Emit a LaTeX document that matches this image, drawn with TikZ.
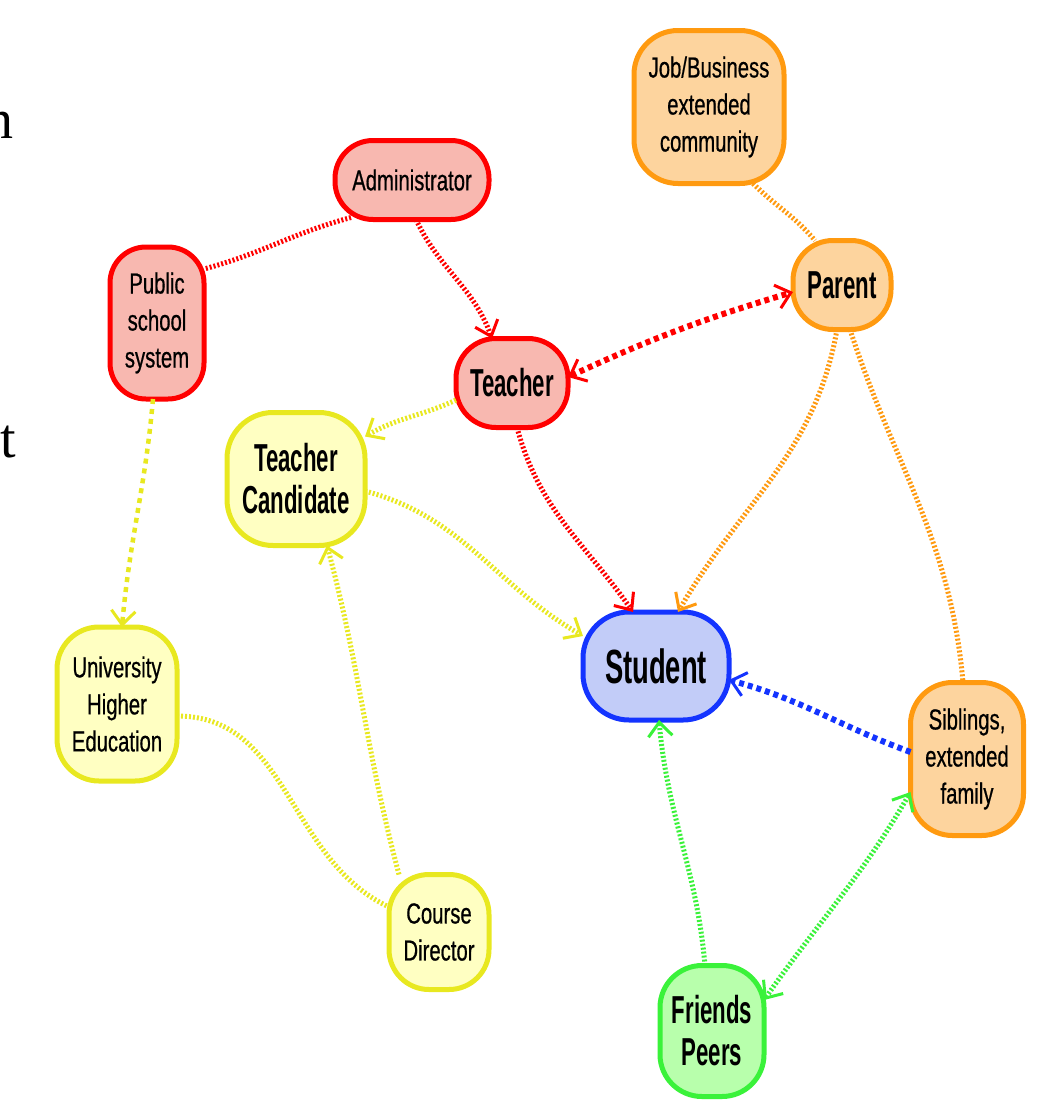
\documentclass[tikz,border=0pt]{standalone}
\usepackage{fontspec}
\setmainfont{Liberation Sans}
\newfontfamily\regf{Liberation Sans}[FakeStretch=0.7, FakeBold=0.6]
\newfontfamily\boldf{Liberation Sans}[FakeStretch=0.57]
\newfontfamily\serff{Liberation Serif}
\usetikzlibrary{arrows.meta}
\pgfdeclarelayer{bg}
\pgfsetlayers{bg,main}
\definecolor{rB}{HTML}{FF0000}\definecolor{rF}{HTML}{F8B8B0}
\definecolor{oB}{HTML}{FF9A10}\definecolor{oF}{HTML}{FDD49E}
\definecolor{yB}{HTML}{E8E820}\definecolor{yF}{HTML}{FFFFC2}
\definecolor{bB}{HTML}{1434FF}\definecolor{bF}{HTML}{C2CCF8}
\definecolor{gB}{HTML}{3AF23A}\definecolor{gF}{HTML}{B8FFAC}
\newcommand\roundbox[3]{% node name, corner radius, style
  \begin{pgfonlayer}{bg}
  \draw[#3] ([xshift=#2]#1.north west) -- ([xshift=-#2]#1.north east)
    arc[start angle=90, end angle=0, radius=#2] -- ([yshift=#2]#1.south east)
    arc[start angle=0, end angle=-90, radius=#2] -- ([xshift=#2]#1.south west)
    arc[start angle=270, end angle=180, radius=#2] -- ([yshift=-#2]#1.north west)
    arc[start angle=180, end angle=90, radius=#2] -- cycle;
  \end{pgfonlayer}}
\tikzset{
  box/.style={align=center, inner sep=0pt, outer sep=0pt},
  regtxt/.style={font=\regf\fontsize{29}{37}\selectfont},
  boldtxt/.style={font=\boldf\bfseries\fontsize{39}{42}\selectfont},
  redbox/.style={line width=5pt, draw=rB, fill=rF},
  orabox/.style={line width=5pt, draw=oB, fill=oF},
  yelbox/.style={line width=5pt, draw=yB, fill=yF},
  blubox/.style={line width=5pt, draw=bB, fill=bF},
  grebox/.style={line width=5pt, draw=gB, fill=gF},
  hatch/.style={line width=5pt, dash pattern=on 2pt off 2pt},
  bigdot/.style={line width=6pt, dash pattern=on 5pt off 4pt},
  dashy/.style={line width=4.5pt, dash pattern=on 5pt off 5pt},
  tip/.style={-{Straight Barb[length=14pt, width=24pt, line width=3pt]}},
  tips/.style={{Straight Barb[length=14pt, width=24pt, line width=3pt]}-{Straight Barb[length=14pt, width=24pt, line width=3pt]}},
}
\begin{document}
\begin{tikzpicture}[x=1pt, y=-1pt]
\useasboundingbox (0,0) rectangle (1051,1100);
% partial slide text on left edge
\node[font=\serff\fontsize{56}{60}\selectfont, anchor=base east, inner sep=0pt] (sn) at (14,138) {n};
\node[font=\serff\fontsize{56}{60}\selectfont, anchor=base west, inner sep=0pt] (st) at (0,457) {t};

% nodes (size = centre line of the box border)
\node[box, regtxt, minimum width=150pt, minimum height=153pt] (job) at (709,107) {Job/Business\\extended\\community};
\node[box, regtxt, minimum width=154pt, minimum height=79pt] (adm) at (412,180) {Administrator};
\node[box, regtxt, minimum width=94pt, minimum height=152pt] (pub) at (157,323) {Public\\school\\system};
\node[box, boldtxt, minimum width=112pt, minimum height=89pt] (tea) at (512,383) {Teacher};
\node[box, boldtxt, minimum width=98pt, minimum height=89pt] (par) at (842,285) {Parent};
\node[box, boldtxt, minimum width=138pt, minimum height=133pt] (tc) at (296,479) {Teacher\\Candidate};
\node[box, regtxt, minimum width=120pt, minimum height=154pt] (uni) at (117,704) {University\\Higher\\Education};
\node[box, font=\boldf\bfseries\fontsize{48}{50}\selectfont, minimum width=146pt, minimum height=108pt] (stu) at (656,666) {Student};
\node[box, regtxt, minimum width=113pt, minimum height=153pt] (sib) at (967,759) {Siblings,\\extended\\family};
\node[box, regtxt, minimum width=100pt, minimum height=115pt] (cd) at (439,932) {Course\\Director};
\node[box, boldtxt, minimum width=104pt, minimum height=131pt] (fri) at (712,1031) {Friends\\Peers};

% box outlines, drawn behind the texts
\roundbox{job}{44pt}{orabox}
\roundbox{adm}{38pt}{redbox}
\roundbox{pub}{36pt}{redbox}
\roundbox{tea}{40pt}{redbox}
\roundbox{par}{40pt}{orabox}
\roundbox{tc}{46pt}{yelbox}
\roundbox{uni}{42pt}{yelbox}
\roundbox{stu}{46pt}{blubox}
\roundbox{sib}{42pt}{orabox}
\roundbox{cd}{40pt}{yelbox}
\roundbox{fri}{42pt}{grebox}

% connectors
\coordinate (a1) at ([xshift=16pt, yshift=2pt]adm.south west);
\coordinate (p1) at ([yshift=-22pt]pub.north east);
\draw[hatch, rB] (a1) to[out=195, in=15] (p1);
\draw[hatch, rB, tip] ([xshift=4pt]adm.south) to[out=-65, in=110] ([xshift=-20pt]tea.north);
\draw[bigdot, rB, tips] ([yshift=6pt]tea.east) to[bend left=4] ([yshift=-7pt]par.west);
\draw[hatch, yB, tip] ([yshift=-17pt]tea.west) to[out=205, in=30] ([yshift=-24pt]tc.north east);
\draw[hatch, rB, tip] ([xshift=5pt]tea.south) to[out=-75, in=125] ([xshift=-23pt]stu.north);
\draw[hatch, oB, tip] ([xshift=-5pt]par.south) to[out=-100, in=60] ([xshift=22pt]stu.north);
\draw[hatch, oB] ([xshift=8pt]par.south) to[out=-72, in=95] ([xshift=-4pt]sib.north);
\draw[hatch, oB] ([xshift=44pt]job.south) to[out=-45, in=130] ([xshift=-27pt]par.north);
\draw[dashy, yB, tip] ([xshift=-4pt]pub.south) to[out=-95, in=85] ([xshift=5pt]uni.north);
\draw[hatch, yB, tip] ([yshift=-12pt]tc.east) to[out=-15, in=150] ([yshift=30pt]stu.west);
\draw[hatch, yB, tip] ([xshift=-40pt]cd.north) to[out=105, in=-75] ([xshift=31pt]tc.south);
\draw[hatch, yB] ([yshift=-12pt]uni.east) to[out=0, in=155] ([yshift=25pt]cd.west);
\draw[bigdot, bB, tip] ([yshift=7pt]sib.west) to[out=160, in=-15] ([yshift=-14pt]stu.east);
\draw[hatch, gB, tip] ([xshift=-7pt]fri.north) to[out=95, in=-85] ([xshift=3pt]stu.south);
\draw[hatch, gB, tips] ([yshift=31pt]fri.east) to[out=55, in=-120] ([yshift=-33pt]sib.west);
\end{tikzpicture}
\end{document}
